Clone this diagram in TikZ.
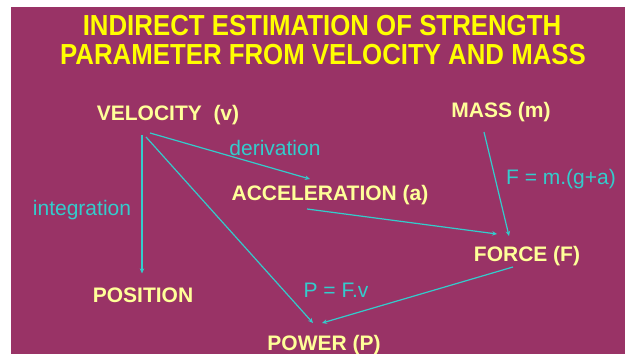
\documentclass[tikz,border=0pt]{standalone}
\usepackage{fontspec}
\setmainfont{Liberation Sans}
\newfontfamily\titlefont{Liberation Sans}[FakeStretch=0.89]
\usetikzlibrary{arrows.meta}
\definecolor{sfondo}{HTML}{993366}
\definecolor{giallo}{HTML}{FFFF00}
\definecolor{crema}{HTML}{FFFF99}
\definecolor{ciano}{HTML}{33CCCC}
\begin{document}
\begin{tikzpicture}[x=1pt,y=-1pt,
    titolo/.style={anchor=base,text=giallo,inner sep=0pt,font=\titlefont\bfseries\fontsize{29}{29}\selectfont},
    grandezza/.style={text=crema,inner sep=0pt,font=\bfseries\fontsize{21}{21}\selectfont},
    formula/.style={text=ciano,inner sep=0pt,font=\fontsize{21}{21}\selectfont},
    freccia/.style={ciano,line width=1.2pt,-{Stealth[length=5pt,width=4.5pt]}}]
        % Sfondo
        \useasboundingbox (0,0) rectangle (625,354);
        \fill [sfondo] (11,7) rectangle (625,354);
        % Titolo
        \node [titolo] (ttl1) at (322,35) {INDIRECT ESTIMATION OF STRENGTH};
        \node [titolo] (ttl2) at (323,64) {PARAMETER FROM VELOCITY AND MASS};
        % Grandezze
        \node [grandezza] (vel) at (168,115) {VELOCITY\ \ (v)};
        \node [grandezza] (mass) at (501,112) {MASS (m)};
        \node [grandezza] (acc) at (330,195) {ACCELERATION (a)};
        \node [grandezza] (force) at (527,256) {FORCE (F)};
        \node [grandezza] (pos) at (143,295) {POSITION};
        \node [grandezza] (pow) at (324,345) {POWER (P)};
        % Frecce
        \draw [freccia] ([xshift=-1pt,yshift=-10pt]pos.north |- vel.south) -- ([xshift=-1pt,yshift=14pt]pos.north);
        \draw [freccia] ([xshift=-18pt,yshift=-8pt]vel.south) -- ([xshift=-20pt,yshift=6pt]acc.north);
        \draw [freccia] ([xshift=-22pt,yshift=-12pt]vel.south) -- ([xshift=-11pt,yshift=12pt]pow.north);
        \draw [freccia] ([xshift=-23pt,yshift=-4pt]acc.south) -- ([xshift=-30pt,yshift=12pt]force.north);
        \draw [freccia] ([xshift=-17pt,yshift=-10pt]mass.south) -- ([xshift=-18pt,yshift=10pt]force.north);
        \draw [freccia] ([xshift=-14pt,yshift=-1pt]force.south) -- ([xshift=-2pt,yshift=12pt]pow.north);
        % Formule
        \node [formula] (der) at (275,148) {derivation};
        \node [formula] (int) at (82,210) {integration};
        \node [formula] (fma) at (561,179) {F = m.(g+a)};
        \node [formula] (pfv) at (336,290) {P = F.v};
    \end{tikzpicture}
\end{document}
